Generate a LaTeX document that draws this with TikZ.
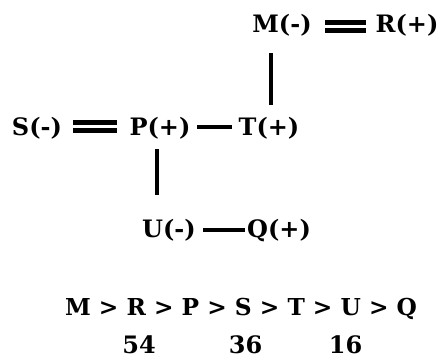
\documentclass[tikz,border=0pt]{standalone}
\usepackage{fontspec}
\setmainfont{DejaVu Serif}
\begin{document}
\begin{tikzpicture}[x=1pt,y=1pt,
  lbl/.style={anchor=base,inner sep=0pt,font=\bfseries\fontsize{24}{27}\selectfont},
  bond/.style={line width=4.5pt},
  dbond/.style={double,line width=4.5pt,double distance=3.5pt}]
\useasboundingbox (0,0) rectangle (446,362);
\node[lbl] (M) at (282,329) {M(-)};
\node[lbl] (R) at (407,329) {R(+)};
\node[lbl] (S) at (37,227) {S(-)};
\node[lbl] (P) at (160,227) {P(+)};
\node[lbl] (T) at (269,227) {T(+)};
\node[lbl] (U) at (169,125) {U(-)};
\node[lbl] (Q) at (279,125) {Q(+)};
\node[lbl,font=\bfseries\fontsize{23.3}{26}\selectfont] (order) at (241,47) {M > R > P > S > T > U > Q};
\node[lbl] (n54) at (139,9) {54};
\node[lbl] (n36) at (245.5,9) {36};
\node[lbl] (n16) at (345.5,9) {16};
\draw[dbond] ([shift={(43,6.5)}]M.base) -- ([shift={(-41,6.5)}]R.base);
\draw[dbond] ([shift={(36,8.5)}]S.base) -- ([shift={(-43,8.5)}]P.base);
\draw[bond] ([shift={(37,8)}]P.base) -- ([shift={(-37,8)}]T.base);
\draw[bond] ([shift={(34,7)}]U.base) -- ([shift={(-34,7)}]Q.base);
\draw[bond] ([shift={(2,30)}]T.base) -- ([shift={(-11,-20)}]M.base);
\draw[bond] ([shift={(-3,-14)}]P.base) -- ([shift={(-12,42)}]U.base);
\end{tikzpicture}
\end{document}
